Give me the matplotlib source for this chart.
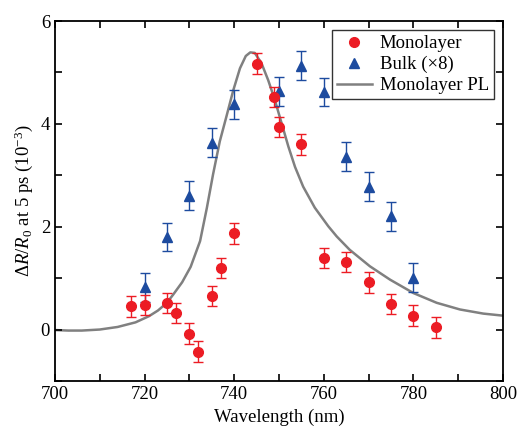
import matplotlib
matplotlib.use("Agg")
import matplotlib.pyplot as plt
from matplotlib.ticker import MultipleLocator
from matplotlib.lines import Line2D

plt.rcParams['font.family'] = ['Liberation Serif', 'DejaVu Serif']
plt.rcParams['mathtext.fontset'] = 'custom'
plt.rcParams['mathtext.rm'] = 'Liberation Serif'
plt.rcParams['mathtext.it'] = 'Liberation Serif:italic'

# Monolayer data
mono_x = [717, 720, 725, 727, 730, 732, 735, 737, 740, 745, 749, 750, 755, 760, 765, 770, 775, 780, 785]
mono_y = [0.45, 0.48, 0.52, 0.32, -0.08, -0.43, 0.65, 1.20, 1.87, 5.17, 4.52, 3.94, 3.60, 1.39, 1.31, 0.92, 0.50, 0.27, 0.04]
mono_err = [0.2] * len(mono_x)

# Bulk (x8) data
bulk_x = [720, 725, 730, 735, 740, 750, 755, 760, 765, 770, 775, 780]
bulk_y = [0.82, 1.80, 2.60, 3.63, 4.38, 4.63, 5.13, 4.62, 3.36, 2.78, 2.20, 1.01]
bulk_err = [0.28] * len(bulk_x)

# Monolayer PL curve
pl_x = [700, 703, 706, 710, 714, 718, 721, 723, 725, 726.4, 728.4, 730.3, 732.4, 733.9, 735.3, 736.8,
        738.3, 739.8, 741.3, 742.6, 743.6, 744.6, 746.1, 747.6, 749.1, 750.6, 752.1, 753.6,
        755.4, 758.0, 761.0, 762.9, 765.8, 770.3, 774.8, 780, 785.2, 790.4, 795.6, 800]
pl_y = [-0.01, -0.02, -0.02, 0.0, 0.05, 0.14, 0.26, 0.37, 0.52, 0.68, 0.92, 1.22, 1.72, 2.36, 3.02, 3.66,
        4.15, 4.65, 5.08, 5.32, 5.39, 5.38, 5.18, 4.85, 4.46, 4.01, 3.56, 3.16,
        2.78, 2.37, 2.01, 1.81, 1.55, 1.23, 0.97, 0.71, 0.52, 0.39, 0.31, 0.27]

red = '#ec1c24'
blue = '#1d4b9f'
gray = '#808080'

fig = plt.figure(figsize=(5.18, 4.29), dpi=100)
ax = fig.add_axes([0.106, 0.112, 0.865, 0.839])

ax.plot(pl_x, pl_y, color=gray, lw=1.8, zorder=1)
ax.errorbar(mono_x, mono_y, yerr=mono_err, fmt='o', color=red, ms=7, capsize=3.5,
            elinewidth=1.0, capthick=1.0, zorder=3)
ax.errorbar(bulk_x, bulk_y, yerr=bulk_err, fmt='^', color=blue, ms=7.5, capsize=3.5,
            elinewidth=1.0, capthick=1.0, zorder=2)

ax.set_xlim(700, 800)
ax.set_ylim(-1, 6)
ax.xaxis.set_major_locator(MultipleLocator(20))
ax.xaxis.set_minor_locator(MultipleLocator(10))
ax.yaxis.set_major_locator(MultipleLocator(2))
ax.yaxis.set_minor_locator(MultipleLocator(1))
ax.tick_params(which='both', direction='in', top=True, right=True, labelsize=13.5, width=1.2)
ax.tick_params(which='major', length=5)
ax.tick_params(which='minor', length=5)
for s in ax.spines.values():
    s.set_linewidth(1.3)

ax.set_xlabel('Wavelength (nm)', fontsize=13.5)
ax.set_ylabel(r'$\Delta R/R_0$ at 5 ps (10$^{-3}$)', fontsize=13.5)

h = [Line2D([], [], ls='none', marker='o', color=red, ms=7),
     Line2D([], [], ls='none', marker='^', color=blue, ms=7.5),
     Line2D([], [], color=gray, lw=1.8)]
leg = ax.legend(h, ['Monolayer', 'Bulk (×8)', 'Monolayer PL'], loc='upper right', fontsize=13.5,
                fancybox=False, edgecolor='#333333', framealpha=1, borderpad=0.25,
                labelspacing=0.2, handlelength=1.9, handletextpad=0.4, borderaxespad=0.5)
leg.get_frame().set_linewidth(1.0)

fig.savefig('out.png', dpi=100)
